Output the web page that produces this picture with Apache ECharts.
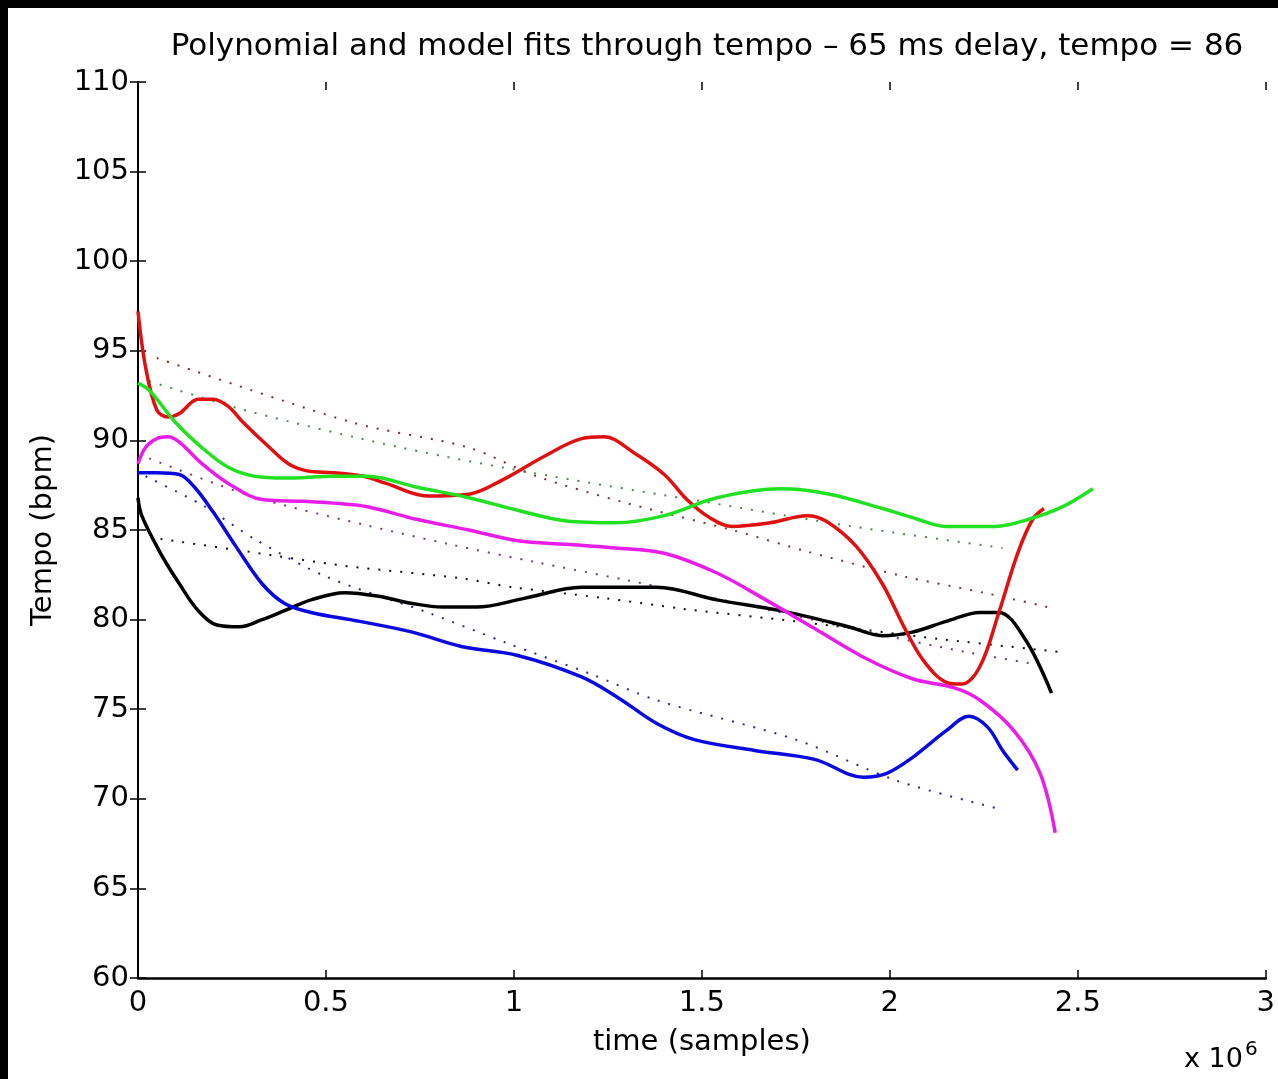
<!DOCTYPE html>
<html>
<head>
<meta charset="utf-8">
<title>Polynomial and model fits through tempo</title>
<script src="https://cdn.jsdelivr.net/npm/echarts@6/dist/echarts.min.js"></script>
<style>
  html, body { margin: 0; padding: 0; background: #000; }
  #frame { position: absolute; left: 8px; top: 8px; width: 1270px; height: 1071px; background: #fff; }
  #chart { width: 1270px; height: 1071px; }
</style>
</head>
<body>
<div id="frame"><div id="chart"></div></div>
<script>
// x in units of 1e6 samples, y in bpm
const xTicks = [0, 0.5, 1, 1.5, 2, 2.5, 3];
const yTicks = [60, 65, 70, 75, 80, 85, 90, 95, 100, 105, 110];

// polynomial fits (solid)
const redFit = [[0,97.2],[0.02,94.1],[0.05,91.7],[0.08,91.3],[0.11,91.5],[0.16,92.3],[0.2,92.3],[0.24,91.9],[0.28,91.0],[0.35,89.6],[0.40,88.7],[0.45,88.3],[0.52,88.2],[0.6,88.0],[0.66,87.6],[0.77,86.9],[0.88,87.0],[0.97,87.8],[1.08,89.1],[1.18,90.1],[1.24,90.2],[1.32,89.3],[1.40,88.1],[1.46,86.7],[1.52,85.7],[1.58,85.2],[1.68,85.4],[1.78,85.8],[1.83,85.5],[1.91,84.1],[1.98,82.0],[2.04,79.5],[2.09,77.7],[2.15,76.5],[2.19,76.4],[2.24,77.4],[2.29,80.4],[2.34,83.7],[2.38,85.6],[2.41,86.2]];
const greenFit = [[0,93.2],[0.03,92.8],[0.1,91.0],[0.17,89.6],[0.24,88.5],[0.31,88.0],[0.39,87.9],[0.52,88.0],[0.61,88.0],[0.74,87.4],[0.88,86.8],[1.01,86.1],[1.14,85.5],[1.27,85.4],[1.40,85.8],[1.54,86.8],[1.71,87.3],[1.84,87.0],[1.98,86.2],[2.06,85.7],[2.15,85.2],[2.28,85.2],[2.37,85.6],[2.46,86.3],[2.54,87.3]];
const magentaFit = [[0,88.7],[0.02,89.6],[0.05,90.1],[0.08,90.2],[0.11,89.9],[0.17,88.7],[0.24,87.6],[0.33,86.7],[0.44,86.6],[0.52,86.5],[0.61,86.3],[0.74,85.6],[0.88,85.0],[1.01,84.4],[1.14,84.2],[1.27,84.0],[1.40,83.7],[1.54,82.6],[1.67,81.1],[1.80,79.5],[1.93,77.9],[2.06,76.7],[2.17,76.2],[2.24,75.5],[2.33,73.8],[2.40,71.4],[2.44,68.1]];
const blueFit = [[0,88.2],[0.05,88.2],[0.11,88.1],[0.15,87.4],[0.20,86.0],[0.26,84.1],[0.33,82.0],[0.39,80.9],[0.46,80.4],[0.59,79.9],[0.73,79.3],[0.86,78.5],[1.01,78.0],[1.18,76.8],[1.28,75.6],[1.38,74.2],[1.48,73.3],[1.64,72.7],[1.80,72.2],[1.93,71.2],[1.99,71.4],[2.06,72.3],[2.15,73.8],[2.21,74.6],[2.26,74.0],[2.30,72.7],[2.34,71.6]];
const blackFit = [[0,86.8],[0.01,85.8],[0.06,83.7],[0.11,82.0],[0.16,80.5],[0.21,79.7],[0.27,79.6],[0.33,80.0],[0.39,80.5],[0.46,81.1],[0.55,81.5],[0.64,81.3],[0.73,80.9],[0.81,80.7],[0.90,80.7],[1.03,81.2],[1.18,81.8],[1.38,81.8],[1.54,81.1],[1.71,80.5],[1.89,79.6],[1.98,79.1],[2.06,79.3],[2.15,79.9],[2.24,80.4],[2.29,80.4],[2.36,78.9],[2.43,75.9]];

// model fits (dotted)
const redModel = [[0.05,94.6],[0.57,91.0],[0.88,89.6],[1.06,88.0],[1.30,86.5],[1.58,85.0],[1.78,83.8],[2.04,82.4],[2.25,81.5],[2.42,80.7]];
const greenModel = [[0.03,93.3],[0.3,91.6],[0.7,89.6],[1.1,88.0],[1.5,86.6],[1.9,85.2],[2.3,84.0]];
const magentaModel = [[0.03,89.0],[0.3,86.9],[0.6,85.3],[0.83,84.2],[1.06,83.2],[1.3,82.2],[1.6,80.9],[1.9,79.5],[2.2,78.2],[2.42,77.4]];
const blackModel = [[0.06,84.5],[0.29,83.8],[0.55,83.0],[0.86,82.3],[1.0,81.8],[1.24,81.2],[1.45,80.6],[1.75,79.9],[2.14,78.9],[2.45,78.2]];
const blueModel = [[0.02,88.0],[0.17,86.4],[0.31,84.5],[0.5,82.4],[0.77,80.4],[0.98,78.7],[1.2,77.0],[1.38,75.5],[1.75,73.3],[2.02,71.0],[2.28,69.5]];

const FONT = "DejaVu Sans";

const chart = echarts.init(document.getElementById("chart"));

const fitLine = (data, color) => ({
  type: "line",
  data,
  smooth: 0.35,
  showSymbol: false,
  lineStyle: { color, width: 3.5 },
  z: 3,
});

const modelLine = (data, color) => ({
  type: "line",
  data,
  smooth: 0.3,
  showSymbol: false,
  lineStyle: { color, width: 2, type: [2, 9] },
  z: 2,
});

const tickStyle = { show: true, inside: true, length: 8, lineStyle: { color: "#000", width: 1.5 } };

chart.setOption({
  animation: false,
  backgroundColor: "#fff",
  title: {
    text: "Polynomial and model fits through tempo \u2013 65 ms delay, tempo = 86",
    left: 694,
    top: 18,
    textAlign: "center",
    textStyle: { fontFamily: FONT, fontSize: 31, fontWeight: "normal", color: "#000" },
  },
  grid: { left: 130, right: 6, top: 74, bottom: 101 },
  xAxis: [
    {
      type: "value",
      min: 0,
      max: 3,
      interval: 0.5,
      position: "bottom",
      name: "time (samples)",
      nameLocation: "middle",
      nameGap: 50,
      nameTextStyle: { fontFamily: FONT, fontSize: 29, color: "#000" },
      axisLine: { show: true, lineStyle: { color: "#000", width: 2.5 } },
      axisTick: tickStyle,
      splitLine: { show: false },
      axisLabel: {
        fontFamily: FONT,
        fontSize: 29,
        color: "#000",
        margin: 11,
        formatter: (v) => String(xTicks.find((t) => Math.abs(t - v) < 1e-9) ?? v),
      },
    },
    {
      type: "value",
      min: 0,
      max: 3,
      interval: 0.5,
      position: "top",
      axisLine: { show: false },
      axisTick: tickStyle,
      axisLabel: { show: false },
      splitLine: { show: false },
    },
  ],
  yAxis: [
    {
      type: "value",
      min: 60,
      max: 110,
      interval: 5,
      position: "left",
      name: "Tempo (bpm)",
      nameLocation: "middle",
      nameGap: 80,
      nameTextStyle: { fontFamily: FONT, fontSize: 29, color: "#000" },
      axisLine: { show: true, lineStyle: { color: "#000", width: 2 } },
      axisTick: tickStyle,
      splitLine: { show: false },
      axisLabel: {
        fontFamily: FONT,
        fontSize: 29,
        color: "#000",
        margin: 9,
        formatter: (v) => String(yTicks.find((t) => t === v) ?? v),
      },
    },
    {
      type: "value",
      min: 60,
      max: 110,
      interval: 5,
      position: "right",
      axisLine: { show: false },
      axisTick: tickStyle,
      axisLabel: { show: false },
      splitLine: { show: false },
    },
  ],
  graphic: [
    {
      type: "text",
      left: 1176,
      top: 1032,
      style: {
        text: "x 10{s|6}",
        rich: { s: { fontFamily: FONT, fontSize: 20, padding: [0, 0, 20, 2], fill: "#000" } },
        fontFamily: FONT,
        fontSize: 27,
        fill: "#000",
      },
    },
  ],
  series: [
    modelLine(redModel, "#8a2a2a"),
    modelLine(greenModel, "#4a8a4a"),
    modelLine(magentaModel, "#7a3a7a"),
    modelLine(blackModel, "#111"),
    modelLine(blueModel, "#2a2a8a"),
    fitLine(blackFit, "#000"),
    fitLine(blueFit, "#0a0ae0"),
    fitLine(magentaFit, "#e81ee8"),
    fitLine(redFit, "#e01010"),
    fitLine(greenFit, "#22e022"),
  ],
});

window.addEventListener("resize", () => chart.resize());
</script>
</body>
</html>
